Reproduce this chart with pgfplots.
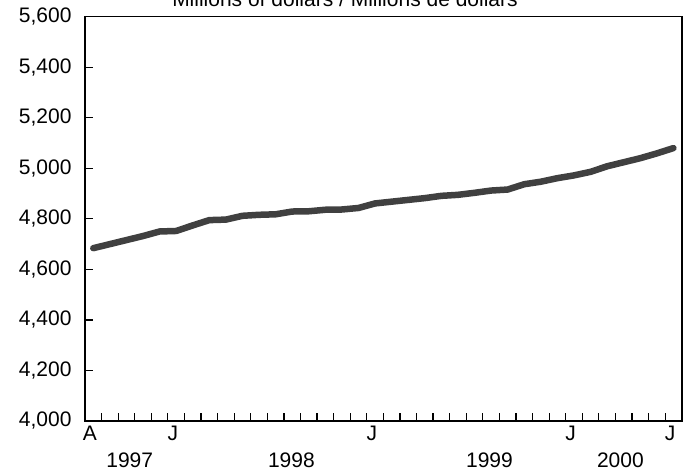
\documentclass[border=0pt]{standalone}
\usepackage{pgfplots}
\pgfplotsset{compat=1.18}
\usepackage{fontspec}
\setmainfont{Liberation Sans}

\newcommand{\lbl}{\fontsize{21bp}{25bp}\selectfont}

\begin{document}
\begin{tikzpicture}
\begin{axis}[
  at={(0,0)}, anchor=south west,
  scale only axis, width=596.7bp, height=404.3bp,
  xmin=0, xmax=36, ymin=4000, ymax=5600,
  axis line style={line width=1.6bp},
  ytick={4000,4200,...,5600},
  xtick={0,5,17,29,35},
  xticklabels={A,J,J,J,J},
  minor xtick={1,...,35},
  tick align=inside,
  ytick pos=left, xtick pos=bottom,
  major tick length=8bp, minor tick length=8bp,
  every tick/.style={line width=1.2bp, black},
  every minor tick/.style={line width=1.2bp, black},
  scaled y ticks=false,
  yticklabel style={xshift=-10bp},
  xticklabel style={xshift=5bp, yshift=-2bp},
  tick label style={font=\lbl},
  clip=false,
  /pgf/number format/1000 sep={,},
  /pgf/number format/assume math mode=true,
]
\addplot[line width=6.5bp, color=black!75, line cap=round, line join=round] coordinates {
(0.5,4684) (1.5,4700) (2.5,4716) (3.5,4732) (4.5,4750) (5.5,4752)
(6.5,4774) (7.5,4795) (8.5,4797) (9.5,4812) (10.5,4816) (11.5,4818)
(12.5,4829) (13.5,4830) (14.5,4836) (15.5,4837) (16.5,4843) (17.5,4861)
(18.5,4868) (19.5,4875) (20.5,4882) (21.5,4891) (22.5,4895) (23.5,4903)
(24.5,4912) (25.5,4916) (26.5,4937) (27.5,4947) (28.5,4961) (29.5,4972)
(30.5,4986) (31.5,5008) (32.5,5024) (33.5,5040) (34.5,5059) (35.5,5080)
};
\node[font=\lbl, anchor=center, yshift=-39.5bp] at (axis cs:2.7,4000) {1997};
\node[font=\lbl, anchor=center, yshift=-39.5bp] at (axis cs:12.45,4000) {1998};
\node[font=\lbl, anchor=center, yshift=-39.5bp] at (axis cs:24.4,4000) {1999};
\node[font=\lbl, anchor=center, yshift=-39.5bp] at (axis cs:32.3,4000) {2000};
\node[font=\lbl, anchor=base, yshift=10.1bp] at (rel axis cs:0.4357,1) {Millions of dollars / Millions de dollars};
\end{axis}
\pgfresetboundingbox
\useasboundingbox (-85bp,-53bp) rectangle (604bp,421bp);
\end{tikzpicture}
\end{document}
